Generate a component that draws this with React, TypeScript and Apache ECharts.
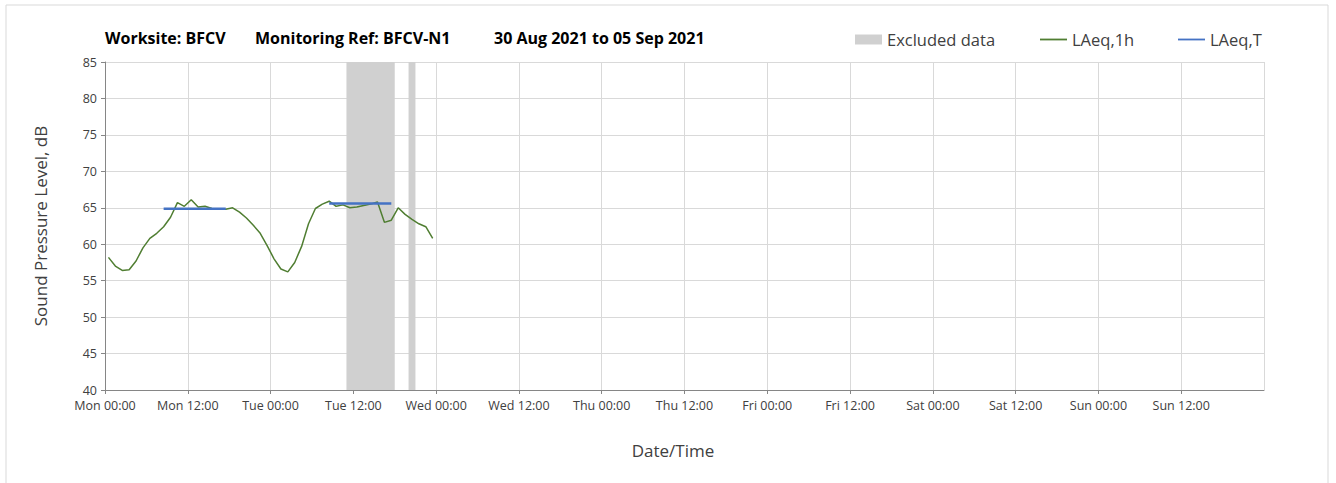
import React, { useEffect, useRef } from "react";
import * as echarts from "echarts";

const titleParts = ["Worksite: BFCV", "Monitoring Ref: BFCV-N1", "30 Aug 2021 to 05 Sep 2021"];
const dayNames = ["Mon", "Tue", "Wed", "Thu", "Fri", "Sat", "Sun", "Mon"];
// hourly LAeq,1h values, starting Mon 00:00 (plotted at the middle of each hour)
const laeq1h = [
  58.2, 57.0, 56.4, 56.5, 57.7, 59.5, 60.8, 61.5, 62.4, 63.7, 65.7, 65.2,
  66.1, 65.1, 65.2, 64.9, 64.8, 64.8, 65.0, 64.4, 63.6, 62.6, 61.5, 59.8,
  58.0, 56.6, 56.2, 57.5, 59.7, 62.8, 64.9, 65.5, 65.9, 65.2, 65.4, 65.0,
  65.1, 65.3, 65.5, 65.8, 63.0, 63.3, 65.0, 64.1, 63.4, 62.8, 62.4, 60.8,
];
// LAeq,T periods: [start hour, end hour, level]
const laeqT: [number, number, number][] = [
  [8.5, 17.5, 64.85],
  [32.5, 41.5, 65.6],
];
// Excluded data periods: [start hour, end hour]
const excluded: [number, number][] = [
  [35, 42],
  [44, 45],
];
const yTicks = { min: 40, max: 85, interval: 5 };
const xRange = { min: 0, max: 168, interval: 12 };

const FONT = "'Open Sans', 'DejaVu Sans', sans-serif";
const GREEN = "#507e32";
const BLUE = "#4472c4";
const GREY = "#d0d0d0";

export default function App() {
  const ref = useRef<HTMLDivElement>(null);
  useEffect(() => {
    if (!ref.current) return;
    const chart = echarts.init(ref.current, undefined, { renderer: "svg" });
    const lineIcon = "path://M0,0 L30,0 L30,2 L0,2 Z";
    const series: any[] = [
      {
        name: "Excluded data",
        type: "line",
        data: [],
        itemStyle: { color: GREY },
        markArea: {
          silent: true,
          itemStyle: { color: GREY },
          data: excluded.map(([a, b]) => [{ xAxis: a }, { xAxis: b }]),
        },
      },
      {
        name: "LAeq,1h",
        type: "line",
        data: laeq1h.map((v, i) => [i + 0.5, v]),
        showSymbol: false,
        lineStyle: { color: GREEN, width: 1.5 },
        itemStyle: { color: GREEN },
        z: 3,
      },
      ...laeqT.map(([a, b, v]) => ({
        name: "LAeq,T",
        type: "line",
        data: [
          [a, v],
          [b, v],
        ],
        showSymbol: false,
        lineStyle: { color: BLUE, width: 2.5 },
        itemStyle: { color: BLUE },
        z: 4,
      })),
    ];
    const legendBase = {
      top: 31,
      padding: 0,
      itemWidth: 27,
      itemHeight: 10,
      textStyle: { fontFamily: FONT, fontSize: 16.5, color: "#404040" },
      selectedMode: false,
      itemGap: 0,
    };
    const titleX = [105, 255, 494];
    chart.setOption({
      animation: false,
      backgroundColor: "#ffffff",
      textStyle: { fontFamily: FONT },
      graphic: [
        {
          type: "rect",
          shape: { x: 6, y: 5, width: 1322, height: 520 },
          style: { fill: "none", stroke: "#d9d9d9", lineWidth: 1 },
          silent: true,
        },
        ...titleParts.map((t, i) => ({
          type: "text",
          x: titleX[i],
          y: 38,
          style: {
            text: t,
            font: `bold 16px ${FONT}`,
            fill: "#000000",
            verticalAlign: "middle",
          },
        })),
        {
          type: "text",
          x: 673,
          y: 450,
          style: {
            text: "Date/Time",
            font: `17px ${FONT}`,
            fill: "#404040",
            align: "center",
            verticalAlign: "middle",
          },
        },
      ],
      legend: [
        {
          ...legendBase,
          left: 855,
          data: [{ name: "Excluded data", icon: "rect", itemStyle: { color: GREY } }],
        },
        {
          ...legendBase,
          left: 1040,
          data: [{ name: "LAeq,1h", icon: lineIcon, itemStyle: { color: GREEN } }],
        },
        {
          ...legendBase,
          left: 1178,
          data: [{ name: "LAeq,T", icon: lineIcon, itemStyle: { color: BLUE } }],
        },
      ],
      grid: { left: 105, right: 72, top: 62, bottom: 93 },
      xAxis: {
        type: "value",
        min: xRange.min,
        max: xRange.max,
        interval: xRange.interval,
        axisLine: { lineStyle: { color: "#868686" } },
        axisTick: { show: true, length: 4, lineStyle: { color: "#868686" } },
        splitLine: { show: true, lineStyle: { color: "#d9d9d9" } },
        axisLabel: {
          color: "#404040",
          fontSize: 12.5,
          margin: 9,
          showMaxLabel: false,
          formatter: (v: number) => {
            if (v >= xRange.max) return "";
            const d = Math.floor(v / 24);
            const h = v % 24;
            return `${dayNames[d]} ${String(h).padStart(2, "0")}:00`;
          },
        },
      },
      yAxis: {
        type: "value",
        min: yTicks.min,
        max: yTicks.max,
        interval: yTicks.interval,
        name: "Sound Pressure Level, dB",
        nameLocation: "middle",
        nameGap: 56,
        nameTextStyle: { fontSize: 17, color: "#404040", fontFamily: FONT },
        axisLine: { show: true, lineStyle: { color: "#868686" } },
        axisTick: { show: true, length: 4, lineStyle: { color: "#868686" } },
        splitLine: { show: true, lineStyle: { color: "#d9d9d9" } },
        axisLabel: { color: "#404040", fontSize: 12.5, margin: 8 },
      },
      series,
    });
    return () => chart.dispose();
  }, []);
  return (
    <div
      ref={ref}
      style={{ position: "absolute", left: 0, top: 0, width: 1336, height: 483 }}
    />
  );
}
